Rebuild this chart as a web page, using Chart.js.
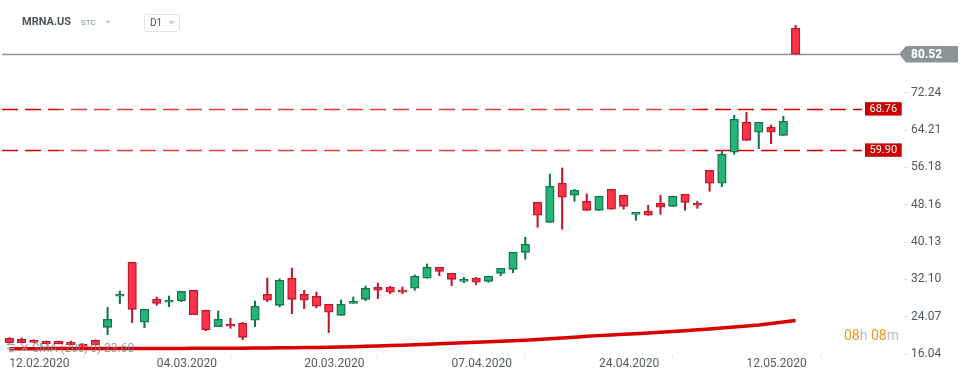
<!DOCTYPE html>
<html><head><meta charset="utf-8">
<script src="https://cdn.jsdelivr.net/npm/chart.js@4.4.1/dist/chart.umd.min.js"></script>
<style>html,body{margin:0;padding:0;background:#fff;overflow:hidden}#wrap{width:970px;height:381px;position:relative}canvas{display:block}</style>
</head><body><div id="wrap"><canvas id="c" width="970" height="381"></canvas></div>
<script>
const categories = ['12.02.2020','13.02.2020','14.02.2020','18.02.2020','19.02.2020','20.02.2020','21.02.2020','24.02.2020','25.02.2020','26.02.2020','27.02.2020','28.02.2020',
'04.03.2020','05.03.2020','06.03.2020','09.03.2020','10.03.2020','11.03.2020','12.03.2020','13.03.2020','16.03.2020','17.03.2020','18.03.2020','19.03.2020','20.03.2020',
'23.03.2020','24.03.2020','25.03.2020','26.03.2020','27.03.2020','30.03.2020','31.03.2020','01.04.2020','02.04.2020','03.04.2020','06.04.2020','07.04.2020',
'08.04.2020','09.04.2020','13.04.2020','14.04.2020','15.04.2020','16.04.2020','17.04.2020','20.04.2020','21.04.2020','22.04.2020','23.04.2020','24.04.2020',
'27.04.2020','28.04.2020','29.04.2020','30.04.2020','01.05.2020','04.05.2020','05.05.2020','06.05.2020','07.05.2020','08.05.2020','11.05.2020','12.05.2020',
'13.05.2020','14.05.2020','15.05.2020','18.05.2020'];
const opens = [19.42,19.21,19.00,18.78,18.78,18.56,18.13,19.00,21.79,28.46,35.77,22.87,
27.81,27.17,27.51,29.75,25.45,21.92,22.44,22.65,23.30,28.89,26.52,32.33,28.89,
28.46,26.74,24.37,26.95,27.81,30.39,30.39,29.81,30.18,32.33,34.69,33.40,
31.68,32.33,31.68,33.40,34.26,37.92,48.67,44.37,52.76,50.18,48.89,46.95,
51.47,50.18,46.09,46.74,48.46,47.81,50.39,48.46,55.55,52.76,59.43,65.88,
63.73,64.80,63.08,86.09];
const highs = [19.55,19.49,19.10,18.85,18.85,18.84,18.25,19.10,26.09,29.60,35.77,25.66,
28.31,28.52,29.53,29.75,25.45,25.30,23.73,22.87,27.45,32.39,32.18,34.54,29.75,
29.38,26.74,27.66,28.31,30.67,31.32,30.60,30.46,33.04,35.40,34.69,33.40,
32.54,32.54,32.76,34.48,37.92,41.15,48.67,54.76,56.05,51.47,50.46,49.96,
51.47,50.18,46.52,48.03,50.18,49.96,50.39,48.89,55.55,59.64,67.38,68.03,
65.88,65.30,67.17,86.74];
const lows = [18.40,18.40,18.50,18.20,18.20,18.00,17.65,18.00,20.20,26.87,22.78,21.70,
26.52,26.22,27.30,24.50,21.06,21.92,21.58,19.12,21.92,27.30,26.22,24.72,25.79,
25.97,20.63,24.37,26.95,27.51,27.94,29.02,29.02,29.75,32.33,32.89,30.74,
31.38,30.95,31.47,32.89,33.53,36.41,43.30,44.37,42.87,48.89,46.95,46.95,
47.17,47.17,44.80,45.88,46.09,47.81,46.95,47.38,51.04,52.03,59.00,62.00,
60.20,61.27,63.08,80.52];
const closes = [18.48,18.48,18.56,18.26,18.26,18.05,17.70,18.05,23.51,28.89,25.66,25.66,
26.95,27.60,29.53,24.50,21.27,23.51,22.01,19.64,26.31,27.60,31.90,27.81,27.60,
26.31,25.02,26.74,27.38,30.18,29.75,29.32,29.32,32.76,34.69,33.83,32.11,
32.11,31.47,32.76,34.48,37.92,39.64,45.88,52.11,49.75,51.25,46.95,49.96,
47.17,47.81,46.52,45.88,47.60,49.96,48.67,48.03,52.76,59.00,66.52,62.00,
65.88,63.73,66.09,80.52];
const sma200 = [17.20,17.20,17.20,17.21,17.21,17.21,17.22,17.22,17.22,17.23,17.23,17.24,17.24,17.25,17.25,17.26,17.26,17.27,17.28,17.30,17.33,17.36,
17.39,17.41,17.43,17.45,17.48,17.55,17.62,17.69,17.77,17.86,17.95,18.05,18.14,18.24,18.35,18.45,18.55,18.66,18.77,18.88,19.00,
19.16,19.33,19.50,19.67,19.84,20.00,20.13,20.27,20.41,20.55,20.70,20.88,21.06,21.24,21.43,21.63,21.85,22.05,22.28,22.60,22.92,23.25];
const yTickValues = [16.04, 24.07, 32.10, 40.13, 48.16, 56.18, 64.21, 72.24];
const xTickIndexes = [0, 12, 24, 36, 48, 60];
const levelValues = [68.76, 59.90];
const lastPrice = 80.52;
const smaLabel = 'SMA (200, 0) 23.60';
const symbolName = 'MRNA.US';
const symbolType = 'STC';
const intervalName = 'D1';

const UP_FILL='rgb(38,179,120)', UP_LINE='rgb(17,118,74)';
const DN_FILL='rgb(255,51,71)', DN_LINE='rgb(186,24,44)';
const isUp = i => closes[i] >= opens[i];

const bodies = opens.map((o,i)=>({x:i, y:[Math.min(o,closes[i]), Math.max(o,closes[i])]}));
const wicks = lows.map((l,i)=>({x:i, y:[l, highs[i]]}));
const smaPts = sma200.map((v,i)=>({x:i, y:v}));

const F = 'Roboto, "Open Sans", Arial, sans-serif';

const overlay = {
  id:'overlay',
  beforeDatasetsDraw(chart){
    const ctx = chart.ctx, y = chart.scales.y;
    ctx.save();
    const py = Math.round(y.getPixelForValue(lastPrice))+0.5;
    ctx.strokeStyle='#8b9498'; ctx.lineWidth=1.3;
    ctx.beginPath(); ctx.moveTo(2,py); ctx.lineTo(899,py); ctx.stroke();
    levelValues.forEach(v=>{
      const ly = Math.round(y.getPixelForValue(v))+0.5;
      const g = ctx.createLinearGradient(0,0,863,0);
      g.addColorStop(0,'#dd0000'); g.addColorStop(0.065,'#dd0000');
      g.addColorStop(0.07,'rgb(230,62,62)'); g.addColorStop(0.805,'rgb(230,62,62)');
      g.addColorStop(0.81,'#dd0000'); g.addColorStop(1,'#dd0000');
      ctx.strokeStyle=g; ctx.lineWidth=1.4; ctx.setLineDash([16,7]); ctx.lineDashOffset=-2;
      ctx.beginPath(); ctx.moveTo(0,ly); ctx.lineTo(862,ly); ctx.stroke();
    });
    ctx.restore();
  },
  afterDraw(chart){
    const ctx = chart.ctx, y = chart.scales.y;
    ctx.save();
    ctx.setLineDash([]);
    const py = y.getPixelForValue(lastPrice);
    ctx.fillStyle='#8b9498';
    ctx.beginPath(); ctx.moveTo(899,py); ctx.lineTo(906,py-8.3); ctx.lineTo(958,py-8.3); ctx.lineTo(958,py+8.3); ctx.lineTo(906,py+8.3); ctx.closePath(); ctx.fill();
    ctx.fillStyle='#fff'; ctx.font='bold 12px '+F; ctx.textBaseline='middle'; ctx.textAlign='left';
    ctx.fillText(lastPrice.toFixed(2), 911, py+0.5);
    levelValues.forEach(v=>{
      const ly = y.getPixelForValue(v);
      ctx.fillStyle='#cc0000'; ctx.fillRect(865, ly-6.7, 36.7, 13.4);
      ctx.fillStyle='#fff'; ctx.font='11px '+F; ctx.textAlign='center';
      ctx.fillText(v.toFixed(2), 883.3, ly+0.5);
    });
    ctx.textAlign='left';
    ctx.fillStyle='#4b5358'; ctx.font='bold 11px '+F; ctx.fillText(symbolName, 22, 22.5);
    ctx.fillStyle='#7d8f9c'; ctx.font='8px '+F; ctx.fillText(symbolType, 81, 23);
    ctx.fillStyle='#c9ced1';
    ctx.beginPath(); ctx.moveTo(104.5,20.5); ctx.lineTo(111,20.5); ctx.lineTo(107.75,23.8); ctx.closePath(); ctx.fill();
    ctx.strokeStyle='#e2e5e7'; ctx.lineWidth=1;
    ctx.beginPath(); ctx.roundRect(144.5,14.5,35,17,2); ctx.stroke();
    ctx.fillStyle='#4b5358'; ctx.font='10px '+F; ctx.fillText(intervalName, 150, 23);
    ctx.fillStyle='#c9ced1';
    ctx.beginPath(); ctx.moveTo(168,21); ctx.lineTo(175,21); ctx.lineTo(171.5,24.3); ctx.closePath(); ctx.fill();
    ctx.strokeStyle='rgba(150,156,160,0.85)'; ctx.lineWidth=1.3;
    ctx.beginPath(); ctx.moveTo(7,344.5); ctx.lineTo(15,344.5); ctx.moveTo(7,348.5); ctx.lineTo(15,348.5); ctx.moveTo(9,351.5);ctx.lineTo(13,351.5); ctx.stroke();
    ctx.beginPath(); ctx.moveTo(21,344); ctx.lineTo(28,351); ctx.moveTo(28,344); ctx.lineTo(21,351); ctx.stroke();
    ctx.fillStyle='rgba(125,131,135,0.8)'; ctx.font='12px '+F; ctx.textBaseline='middle';
    ctx.fillText(smaLabel, 32, 349);
    ctx.font='14px '+F; let x=844; const cy=336;
    [['08','rgb(247,148,30)'],['h','rgb(185,190,193)'],[' 08','rgb(247,148,30)'],['m','rgb(185,190,193)']].forEach(([t,c])=>{
      ctx.fillStyle=c; ctx.fillText(t,x,cy); x+=ctx.measureText(t).width;
    });
    ctx.restore();
  }
};

new Chart(document.getElementById('c'), {
  data:{
    datasets:[
      {type:'bar', data:bodies, order:0, grouped:false, barThickness:8.5, borderWidth:1.3, borderSkipped:false,
        backgroundColor:c=>isUp(c.dataIndex)?UP_FILL:DN_FILL, borderColor:c=>isUp(c.dataIndex)?UP_LINE:DN_LINE},
      {type:'bar', data:wicks, order:1, grouped:false, barThickness:1.4, borderWidth:0,
        backgroundColor:c=>isUp(c.dataIndex)?UP_LINE:DN_LINE},
      {type:'line', data:smaPts, order:2, borderColor:'#d90000', borderWidth:3.5, pointRadius:0, tension:0, fill:false}
    ]
  },
  options:{
    responsive:false, animation:false, devicePixelRatio:1,
    layout:{padding:0},
    plugins:{legend:{display:false}, tooltip:{enabled:false}},
    scales:{
      x:{type:'linear', min:-0.757, max:72.74, offset:false,
        grid:{drawOnChartArea:false, drawTicks:true, tickLength:4, color:'#e3e6e8'},
        border:{display:false},
        ticks:{align:'start', autoSkip:false, maxRotation:0, padding:-2, color:'#555c61', font:{family:F, size:12},
          callback:v=>categories[v]},
        afterBuildTicks:s=>{s.ticks = xTickIndexes.map(v=>({value:v}));},
        afterFit:s=>{s.height=26; s.paddingLeft=0; s.paddingRight=0;}
      },
      y:{type:'linear', position:'right', min:15.833, max:92.177,
        grid:{drawOnChartArea:false, drawTicks:true, tickLength:5, color:'#e0e3e5'},
        border:{display:false},
        ticks:{padding:3, color:'#50575c', font:{family:F, size:12}, callback:v=>v.toFixed(2)},
        afterBuildTicks:s=>{s.ticks = yTickValues.map(v=>({value:v}));},
        afterFit:s=>{s.width=67; s.paddingTop=0; s.paddingBottom=0;}
      }
    }
  },
  plugins:[overlay]
});
</script></body></html>
